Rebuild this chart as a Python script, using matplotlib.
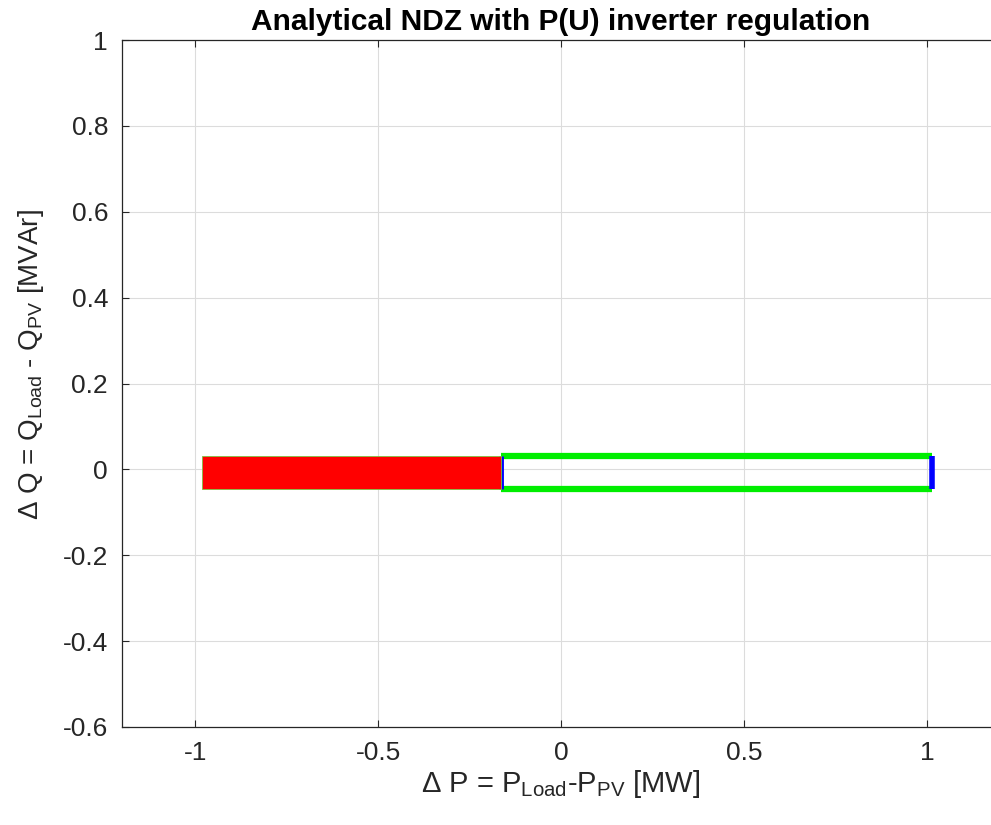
import numpy as np
import matplotlib
matplotlib.use("Agg")
import matplotlib.pyplot as plt
from matplotlib.patches import Rectangle

# NDZ boundaries
p_min = -0.98      # left edge of the non-detection zone [MW]
p_thr = -0.165     # P(U) regulation onset [MW]
p_max = 1.015      # right edge [MW]
q_min = -0.045     # [MVAr]
q_max = 0.03       # [MVAr]

xticks = [-1, -0.5, 0, 0.5, 1]
xticklabels = ["-1", "-0.5", "0", "0.5", "1"]
yticks = [-0.6, -0.4, -0.2, 0, 0.2, 0.4, 0.6, 0.8, 1]
yticklabels = ["-0.6", "-0.4", "-0.2", "0", "0.2", "0.4", "0.6", "0.8", "1"]

plt.rcParams['font.family'] = ['Liberation Sans', 'DejaVu Sans']
plt.rcParams['mathtext.fontset'] = 'custom'
plt.rcParams['mathtext.rm'] = 'Liberation Sans'
plt.rcParams['mathtext.it'] = 'Liberation Sans'

fig = plt.figure(figsize=(9.91, 8.25), dpi=100)
W, H = 991, 825
ax = fig.add_axes([122 / W, 1 - 727 / H, 878 / W, 687 / H])

ax.set_xlim(-1.2, 1.2)
ax.set_ylim(-0.6, 1)

# blue vertical limits
ax.plot([p_thr, p_thr], [q_min, q_max], color='blue', lw=3.5, solid_capstyle='butt', zorder=3)
ax.plot([p_max, p_max], [q_min, q_max], color='blue', lw=4, solid_capstyle='butt', zorder=3)

# green reactive power bounds
ax.plot([p_thr, p_max], [q_max, q_max], color='#00ee00', lw=4.5, solid_capstyle='butt', zorder=2)
ax.plot([p_thr, p_max], [q_min, q_min], color='#00ee00', lw=4.5, solid_capstyle='butt', zorder=2)

# red filled area
ax.add_patch(Rectangle((p_min, q_min), p_thr - p_min, q_max - q_min,
                       facecolor='red', edgecolor='#80c040', lw=0.6, zorder=4))

ax.set_xticks(xticks)
ax.set_xticklabels(xticklabels)
ax.set_yticks(yticks)
ax.set_yticklabels(yticklabels)
ax.grid(True, color='#dcdcdc', lw=0.8)
ax.set_axisbelow(True)
ax.tick_params(direction='in', length=5, width=0.8, colors='#262626',
               labelsize=19, top=True, right=True, pad=10)
for s in ax.spines.values():
    s.set_color('#262626')
    s.set_linewidth(0.9)

ax.set_title('Analytical NDZ with P(U) inverter regulation', fontsize=21.5,
             fontweight='bold', pad=7)
ax.set_xlabel(r'$\Delta$ P = P$_{\rm Load}$-P$_{\rm PV}$ [MW]', fontsize=21, color='#262626', labelpad=2)
ax.set_ylabel(r'$\Delta$ Q = Q$_{\rm Load}$ - Q$_{\rm PV}$ [MVAr]', fontsize=20, color='#262626')
ax.yaxis.set_label_coords(-0.087, 0.528)

fig.savefig('out.png', dpi=100)
